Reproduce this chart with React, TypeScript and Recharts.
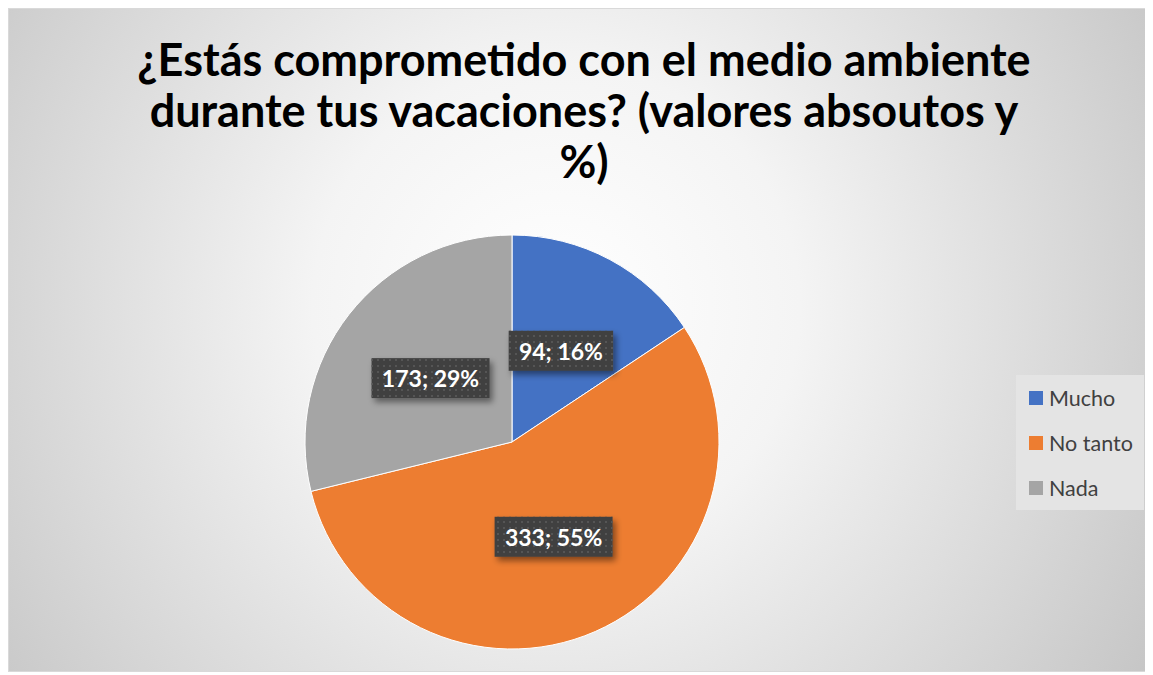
import { PieChart, Pie, Cell, Legend } from "recharts"

const categories = ["Mucho", "No tanto", "Nada"]
const values = [94, 333, 173]
const percents = ["16%", "55%", "29%"]
const colors = ["#4472C4", "#ED7D31", "#A5A5A5"]
const titleLines = [
  "¿Estás comprometido con el medio ambiente",
  "durante tus vacaciones? (valores absoutos y",
  "%)",
]

const W = 1140
const H = 662
const FONT = "Lato, 'Open Sans', sans-serif"

const data = categories.map((name, i) => ({ name, value: values[i], pct: percents[i] }))

const RAD = Math.PI / 180

// dark boxed data label, placed halfway out along the slice's middle angle
const renderLabel = (props: any) => {
  const { cx, cy, midAngle, outerRadius, index } = props
  const r = outerRadius * 0.5
  const x = cx + r * Math.cos(-midAngle * RAD)
  const y = cy + r * Math.sin(-midAngle * RAD)
  const text = `${data[index].value}; ${data[index].pct}`
  const w = text.length * 13.5 + 10
  const h = 40
  return (
    <g key={`lbl-${index}`}>
      <rect x={x - w / 2} y={y - h / 2} width={w} height={h} fill="#404040" filter="url(#lblShadow)" />
      <rect x={x - w / 2} y={y - h / 2} width={w} height={h} fill="url(#dots)" />
      <text
        x={x}
        y={y}
        textAnchor="middle"
        dominantBaseline="central"
        fill="#ffffff"
        fontFamily={FONT}
        fontWeight={700}
        fontSize={23}
      >
        {text}
      </text>
    </g>
  )
}

const LegendBox = () => (
  <div style={{ background: "#e4e4e4", width: 128, height: 135, boxSizing: "border-box" }}>
    {data.map((d, i) => (
      <div key={d.name} style={{ display: "flex", alignItems: "center", height: 45, paddingLeft: 13 }}>
        <span style={{ width: 14, height: 14, background: colors[i], marginRight: 6 }} />
        <span style={{ fontFamily: FONT, fontSize: 21.5, color: "#404040" }}>{d.name}</span>
      </div>
    ))}
  </div>
)

export default function App() {
  return (
    <div
      style={{
        position: "relative",
        width: W,
        height: H,
        border: "1px solid #d9d9d9",
        background: "radial-gradient(circle at 48% 45%, #ffffff 0%, #f4f4f4 35%, #c6c6c6 100%)",
      }}
    >
      {titleLines.map((line, i) => (
        <div
          key={i}
          style={{
            position: "absolute",
            left: 0,
            width: W,
            top: 24 + i * 51,
            textAlign: "center",
            paddingLeft: 10,
            boxSizing: "border-box",
            fontFamily: FONT,
            fontWeight: 700,
            fontSize: 45,
            lineHeight: "52px",
            color: "#000000",
            whiteSpace: "nowrap",
          }}
        >
          {line}
        </div>
      ))}
      <PieChart width={W} height={H} style={{ position: "absolute", left: 0, top: 0 }}>
        <defs>
          <filter id="lblShadow" x="-20%" y="-30%" width="150%" height="180%">
            <feDropShadow dx="3" dy="4" stdDeviation="3" floodColor="#000" floodOpacity="0.45" />
          </filter>
          <pattern id="dots" width="6" height="6" patternUnits="userSpaceOnUse">
            <rect x="2" y="2" width="2" height="2" fill="#555555" />
          </pattern>
        </defs>
        <Pie
          data={data}
          dataKey="value"
          nameKey="name"
          cx={498}
          cy={428}
          outerRadius={207}
          startAngle={90}
          endAngle={-270}
          stroke="#ffffff"
          strokeWidth={1}
          label={renderLabel}
          labelLine={false}
          isAnimationActive={false}
        >
          {data.map((d, i) => (
            <Cell key={d.name} fill={colors[i]} />
          ))}
        </Pie>
        <Legend
          content={<LegendBox />}
          wrapperStyle={{ position: "absolute", left: 1007, top: 366, width: 128, height: 135 }}
        />
      </PieChart>
    </div>
  )
}
